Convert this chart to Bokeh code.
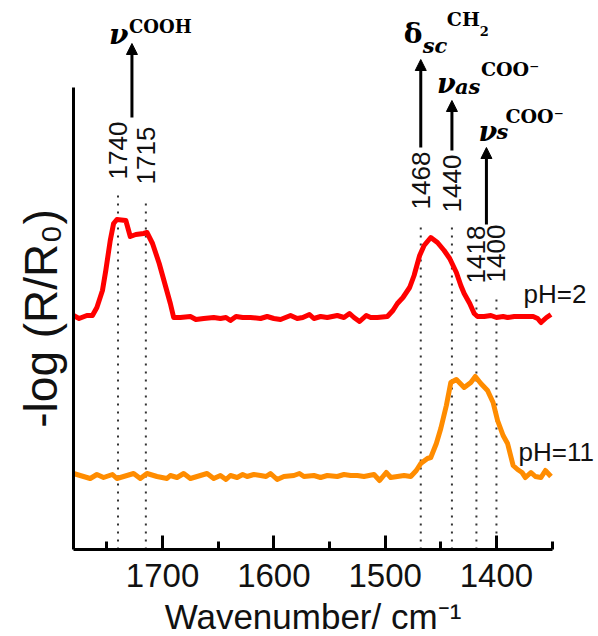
import math
from bokeh.plotting import figure
from bokeh.models import (Range1d, FixedTicker, Arrow, NormalHead, Label,
                          ColumnDataSource)
from bokeh.core.properties import value
from bokeh.embed import file_html
from bokeh.resources import INLINE

# ---------------- data ----------------
red_wn = [1780, 1775, 1768, 1763, 1759, 1754, 1751, 1747, 1744, 1741,
          1733, 1729, 1724, 1717, 1714, 1709, 1703, 1697, 1693, 1690,
          1684, 1675, 1670, 1663, 1654, 1648, 1643, 1639, 1634, 1628,
          1621, 1612, 1606, 1600, 1594, 1585, 1579, 1574, 1568, 1564,
          1558, 1552, 1543, 1537, 1532, 1528, 1523, 1517, 1513, 1507,
          1498, 1493, 1489, 1484, 1478, 1474, 1469, 1465, 1459, 1453,
          1447, 1442, 1436, 1432, 1429, 1424, 1420, 1417, 1411, 1405,
          1400, 1394, 1390, 1384, 1378, 1372, 1367, 1363, 1360, 1355, 1351]
red_y = [2.34, 2.31, 2.34, 2.34, 2.42, 2.59, 2.79, 3.09, 3.26, 3.30,
         3.29, 3.13, 3.15, 3.16, 3.17, 3.06, 2.86, 2.62, 2.46, 2.32,
         2.32, 2.33, 2.30, 2.31, 2.32, 2.31, 2.32, 2.29, 2.33, 2.32,
         2.32, 2.31, 2.33, 2.31, 2.30, 2.34, 2.31, 2.32, 2.35, 2.31,
         2.33, 2.32, 2.34, 2.32, 2.36, 2.32, 2.28, 2.34, 2.32, 2.32,
         2.33, 2.39, 2.46, 2.52, 2.62, 2.74, 2.94, 3.04, 3.12, 3.07,
         2.99, 2.91, 2.77, 2.64, 2.56, 2.46, 2.36, 2.33, 2.33, 2.34,
         2.32, 2.33, 2.32, 2.33, 2.33, 2.33, 2.33, 2.31, 2.27, 2.32, 2.35]

orange_wn = [1780, 1774, 1765, 1759, 1753, 1745, 1741, 1735, 1726, 1720,
             1714, 1705, 1696, 1693, 1687, 1681, 1675, 1666, 1660, 1654,
             1648, 1643, 1639, 1633, 1628, 1624, 1618, 1612, 1607, 1603,
             1597, 1591, 1582, 1577, 1573, 1564, 1558, 1552, 1543, 1537,
             1531, 1525, 1519, 1510, 1505, 1499, 1495, 1489, 1483, 1477,
             1472, 1468, 1462, 1459, 1454, 1450, 1445, 1441, 1436, 1429,
             1423, 1419, 1414, 1408, 1403, 1399, 1394, 1390, 1385, 1381,
             1377, 1374, 1369, 1365, 1360, 1356, 1351]
orange_y = [0.76, 0.74, 0.71, 0.75, 0.72, 0.75, 0.71, 0.73, 0.76, 0.71,
            0.76, 0.73, 0.71, 0.74, 0.72, 0.76, 0.71, 0.74, 0.76, 0.71,
            0.74, 0.70, 0.74, 0.72, 0.75, 0.73, 0.75, 0.74, 0.73, 0.76,
            0.70, 0.73, 0.74, 0.76, 0.73, 0.74, 0.72, 0.74, 0.73, 0.75,
            0.74, 0.74, 0.73, 0.75, 0.69, 0.77, 0.72, 0.73, 0.74, 0.73,
            0.79, 0.86, 0.91, 0.92, 1.06, 1.21, 1.44, 1.67, 1.70, 1.62,
            1.67, 1.73, 1.66, 1.59, 1.47, 1.29, 1.14, 1.06, 0.84, 0.80,
            0.77, 0.72, 0.77, 0.73, 0.72, 0.79, 0.73]

peak_wn = [1740, 1715, 1468, 1440, 1418, 1400]
peak_labels = ["1740", "1715", "1468", "1440", "1418", "1400"]

major_ticks = [1700, 1600, 1500, 1400]
minor_ticks = [1750, 1650, 1550, 1450, 1350]

series_labels = ["pH=2", "pH=11"]

# ---------------- layout (positions, not data) ----------------
X_AXIS_START, X_AXIS_END = 1780, 1350
X_VIEW = (1845.6, 1310.1)
Y_VIEW = (-0.85, 5.49)
Y_AXIS_TOP = 4.62
peak_label_y = [3.99, 3.94, 3.69, 3.66, 2.95, 2.96]
peak_line_top = [3.59, 3.47, 3.24, 3.24, 2.51, 2.51]
series_label_pos = [(1375.7, 2.47), (1380.2, 0.89)]
SANS_DESCENT = 0.212      # fraction of font size below the baseline
SERIF_DESCENT = 0.236

# arrow groups: peaks involved, arrow start y, arrow end y, text pieces
# (text, x offset px, baseline offset px, size px, style)
groups = [
    dict(peaks=[1740, 1715], y0=4.32, y1=5.06,
         parts=[("ν", -23, 0, 28, "bold italic"),
                ("COOH", -3, 11, 18, "bold")]),
    dict(peaks=[1468], y0=4.02, y1=4.90,
         parts=[("δ", -17, 17, 28, "bold"),
                ("sc", 2, 7, 21, "bold italic"),
                ("CH", 26, 34, 19, "bold"),
                ("2", 59, 27, 13, "bold")]),
    dict(peaks=[1440], y0=3.99, y1=4.49,
         parts=[("ν", -15, 8, 27, "bold italic"),
                ("as", 3, 7, 21, "bold italic"),
                ("COO⁻", 29, 25, 19, "bold")]),
    dict(peaks=[1418, 1400], y0=3.25, y1=4.02,
         parts=[("ν", -8, 7, 27, "bold italic"),
                ("s", 10, 9, 21, "bold italic"),
                ("COO⁻", 19, 25, 19, "bold")]),
]

SANS = "Liberation Sans"
SERIF = "DejaVu Serif"

p = figure(width=596, height=634,
           x_range=Range1d(*X_VIEW), y_range=Range1d(*Y_VIEW),
           output_backend="svg", toolbar_location=None,
           min_border_left=0, min_border_right=0,
           min_border_top=0, min_border_bottom=0)
p.outline_line_color = None
p.xgrid.visible = False
p.ygrid.visible = False
p.background_fill_color = "white"
p.border_fill_color = "white"

# x axis (drawn at y = 0 inside the frame)
xa = p.xaxis[0]
xa.fixed_location = 0
xa.ticker = FixedTicker(ticks=major_ticks, minor_ticks=minor_ticks)
xa.bounds = (X_AXIS_END, X_AXIS_START)
xa.axis_line_width = 3
xa.axis_line_color = "black"
xa.major_tick_line_width = 3
xa.minor_tick_line_width = 3
xa.major_tick_in = 14
xa.major_tick_out = 0
xa.minor_tick_in = 8
xa.minor_tick_out = 0
xa.major_label_text_font = SANS
xa.major_label_text_font_size = "33px"
xa.major_label_text_color = "#111111"
xa.major_label_standoff = 14
xa.axis_label = "Wavenumber/ cm⁻¹"
xa.axis_label_text_font = SANS
xa.axis_label_text_font_size = "35px"
xa.axis_label_text_font_style = "normal"
xa.axis_label_text_color = "#111111"
xa.axis_label_standoff = 7

# y axis (drawn at x = 1780 inside the frame)
ya = p.yaxis[0]
ya.fixed_location = X_AXIS_START
ya.ticker = FixedTicker(ticks=[])
ya.bounds = (0, Y_AXIS_TOP)
ya.axis_line_width = 3
ya.axis_line_color = "black"
ya.major_tick_line_color = None
ya.minor_tick_line_color = None
ya.major_label_text_font_size = "0px"
ya.axis_label = "-log (R/R₀)"
ya.axis_label_text_font = SANS
ya.axis_label_text_font_size = "46px"
ya.axis_label_text_font_style = "normal"
ya.axis_label_text_color = "#111111"
ya.axis_label_standoff = 7

# dotted guide lines
p.segment(x0=peak_wn, y0=[0] * len(peak_wn), x1=peak_wn, y1=peak_line_top,
          line_color="#333333", line_width=2, line_dash="2 6")

# spectra
p.line(red_wn, red_y, line_color="#ff0000", line_width=5, line_join="round")
p.line(orange_wn, orange_y, line_color="#ff8c00", line_width=5, line_join="round")

# peak labels (rotated)
p.text(x=peak_wn, y=peak_label_y, text=peak_labels, angle=math.pi / 2,
       text_align="center", text_baseline="middle",
       text_font=value(SANS), text_font_size="26px", text_color="#111111")

# series labels (anchor = bottom of text box, i.e. baseline minus descent)
for lab, (lx, ly) in zip(series_labels, series_label_pos):
    p.add_layout(Label(x=lx, y=ly, y_offset=-round(SANS_DESCENT * 26), text=lab,
                       text_font=SANS, text_font_size="26px", text_color="#111111",
                       text_baseline="bottom", text_align="left"))

# arrows + band labels
ax = [sum(g["peaks"]) / len(g["peaks"]) for g in groups]
src = ColumnDataSource(dict(x=ax, y0=[g["y0"] for g in groups],
                            y1=[g["y1"] for g in groups]))
p.add_layout(Arrow(end=NormalHead(size=11, fill_color="black", line_color="black",
                                  line_width=1),
                   x_start="x", y_start="y0", x_end="x", y_end="y1",
                   source=src, line_width=3, line_color="black"))

for g, gx in zip(groups, ax):
    for txt, dx, dy, size, style in g["parts"]:
        p.add_layout(Label(x=gx, y=g["y1"], x_offset=dx,
                           y_offset=dy - round(SERIF_DESCENT * size), text=txt,
                           text_font=SERIF, text_font_style=style,
                           text_font_size=f"{size}px", text_color="black",
                           text_baseline="bottom", text_align="left"))

open("out.html", "w").write(file_html(p, INLINE))
